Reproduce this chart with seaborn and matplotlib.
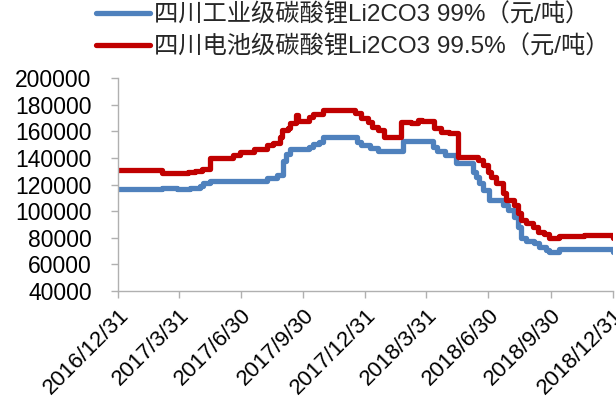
import pandas as pd
import matplotlib
matplotlib.use("Agg")
import matplotlib.pyplot as plt
import seaborn as sns

# Series names
ind_name = "四川工业级碳酸锂Li2CO3 99%（元/吨）"
bat_name = "四川电池级碳酸锂Li2CO3 99.5%（元/吨）"

# Industrial grade: dates where the price changes, and the new price
ind_dates = ["2016-12-31", "2017-03-06", "2017-03-28", "2017-04-16", "2017-05-01",
             "2017-05-06", "2017-05-16", "2017-08-08", "2017-08-23", "2017-09-01",
             "2017-09-05", "2017-09-11", "2017-10-08", "2017-10-15", "2017-10-23",
             "2017-10-30", "2017-12-19", "2017-12-24", "2018-01-07", "2018-01-18",
             "2018-02-24", "2018-04-09", "2018-04-16", "2018-04-28", "2018-05-13",
             "2018-06-07", "2018-06-12", "2018-06-16", "2018-06-22", "2018-07-01",
             "2018-07-22", "2018-07-29", "2018-08-07", "2018-08-13", "2018-08-17",
             "2018-08-25", "2018-09-05", "2018-09-13", "2018-09-23", "2018-09-28",
             "2018-10-12", "2018-12-24", "2018-12-31"]
ind_price = [117000, 117500, 116500, 117500, 119000,
             121500, 123000, 125000, 127000, 138000,
             143000, 147000, 148400, 150200, 152200,
             155500, 152000, 149700, 147700, 145500,
             152500, 148400, 145500, 142500, 136500,
             129600, 125800, 120900, 116000, 108400,
             104600, 100800, 95800, 88300, 79600,
             77800, 76300, 73300, 70800, 69000,
             71500, 71500, 69000]

# Battery grade
bat_dates = ["2016-12-31", "2017-03-06", "2017-04-13", "2017-04-24", "2017-05-04",
             "2017-05-16", "2017-06-19", "2017-06-29", "2017-07-19", "2017-08-08",
             "2017-08-17", "2017-08-27", "2017-08-30", "2017-09-07", "2017-09-11",
             "2017-09-19", "2017-09-23", "2017-10-08", "2017-10-15", "2017-10-29",
             "2017-12-16", "2017-12-24", "2018-01-03", "2018-01-10", "2018-01-19",
             "2018-01-27", "2018-02-22", "2018-03-08", "2018-03-18", "2018-03-24",
             "2018-04-11", "2018-04-21", "2018-05-03", "2018-05-16", "2018-06-15",
             "2018-06-22", "2018-06-29", "2018-07-04", "2018-07-11", "2018-07-22",
             "2018-07-26", "2018-08-07", "2018-08-13", "2018-08-17", "2018-08-25",
             "2018-09-04", "2018-09-11", "2018-09-20", "2018-09-28", "2018-10-12",
             "2018-11-18", "2018-12-24", "2018-12-31"]
bat_price = [131300, 128800, 129300, 130300, 132000,
             140000, 142500, 144500, 147000, 149500,
             151500, 156000, 161000, 162500, 166000,
             172000, 168000, 171000, 173000, 176000,
             173500, 170200, 167200, 163400, 160900,
             156000, 167000, 166000, 168500, 168000,
             162200, 159700, 158400, 140500, 138400,
             134600, 129600, 125800, 120900, 113400,
             108400, 104600, 98400, 93300, 90900,
             88300, 84500, 82600, 79600, 81300,
             82100, 82100, 79600]

tick_dates = ["2016-12-31", "2017-03-31", "2017-06-30", "2017-09-30", "2017-12-31",
              "2018-03-31", "2018-06-30", "2018-09-30", "2018-12-31"]
tick_labels = ["2016/12/31", "2017/3/31", "2017/6/30", "2017/9/30", "2017/12/31",
               "2018/3/31", "2018/6/30", "2018/9/30", "2018/12/31"]
y_ticks = [40000, 60000, 80000, 100000, 120000, 140000, 160000, 180000, 200000]

df = pd.concat([
    pd.DataFrame({"date": pd.to_datetime(ind_dates), "price": ind_price, "series": ind_name}),
    pd.DataFrame({"date": pd.to_datetime(bat_dates), "price": bat_price, "series": bat_name}),
])

sns.set_style("ticks")
plt.rcParams["font.family"] = ["Liberation Sans", "Noto Sans CJK SC"]
plt.rcParams["font.size"] = 16

fig = plt.figure(figsize=(6.16, 4.07), dpi=100)
ax = fig.add_axes([0.1916, 0.285, 0.8034, 0.523])

palette = {ind_name: "#4f81bd", bat_name: "#c00000"}
sns.lineplot(data=df, x="date", y="price", hue="series", palette=palette,
             estimator=None, drawstyle="steps-post", linewidth=3.8,
             solid_joinstyle="round", ax=ax, legend=False)

ax.set_xlim(pd.Timestamp("2016-12-31"), pd.Timestamp("2018-12-31"))
ax.set_ylim(40000, 200000)
ax.set_xticks(pd.to_datetime(tick_dates))
ax.set_xticklabels(tick_labels, rotation=45, ha="right", rotation_mode="anchor")
ax.set_yticks(y_ticks)
ax.set_yticklabels([str(v) for v in y_ticks])
ax.set_xlabel("")
ax.set_ylabel("")

for side in ["top", "right"]:
    ax.spines[side].set_visible(False)
for side in ["left", "bottom"]:
    ax.spines[side].set_color("#b0b0b0")
    ax.spines[side].set_linewidth(1.0)
ax.tick_params(axis="both", colors="#b0b0b0", labelcolor="black",
               length=5, width=1.0)
ax.tick_params(axis="y", labelsize=16.5, pad=14)
ax.tick_params(axis="x", labelsize=16, pad=5)

handles = [plt.Line2D([], [], color=palette[n], linewidth=3.8, solid_capstyle="round")
           for n in [ind_name, bat_name]]
fig.legend(handles, [ind_name, bat_name], loc="upper left",
           bbox_to_anchor=(0.15, 1.0), frameon=False, fontsize=17.5,
           handlelength=2.2, handletextpad=0.2, labelspacing=0.35,
           borderpad=0.15, borderaxespad=0)

fig.savefig("out.png", dpi=100)
